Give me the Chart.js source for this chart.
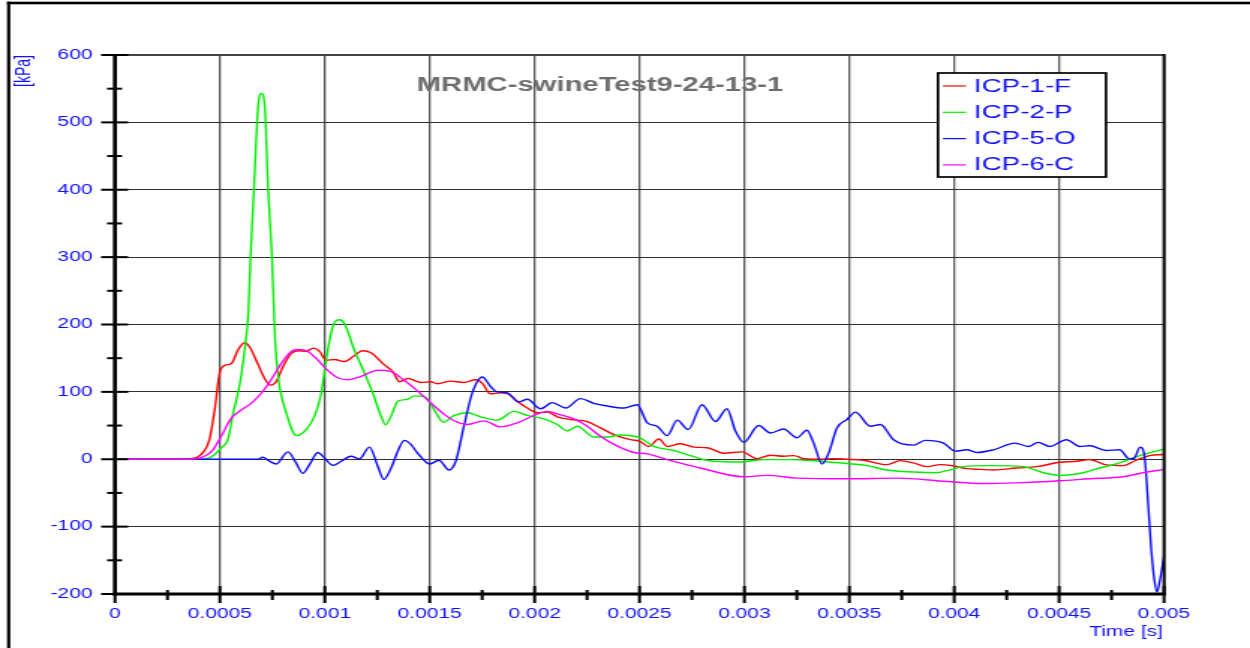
<!DOCTYPE html>
<html>
<head>
<meta charset="utf-8">
<title>MRMC-swineTest9-24-13-1</title>
<script src="https://cdn.jsdelivr.net/npm/chart.js@4.4.1/dist/chart.umd.min.js"></script>
<style>
  html, body { margin: 0; padding: 0; background: #fff; overflow: hidden; }
  /* the original plot is a horizontally stretched export, so draw narrow and stretch */
  #wrap { width: 834px; height: 648px; transform: scaleX(1.49880); transform-origin: 0 0; }
</style>
</head>
<body>
<div id="wrap"><canvas id="icpChart" width="834" height="648"></canvas></div>
<script>

/******************************************************************
DATA  (time [s], pressure [kPa])
******************************************************************/

var seriesNames = ["ICP-1-F", "ICP-2-P", "ICP-5-O", "ICP-6-C"];
var seriesColors = ["#ff0000", "#00ee00", "#0a0aff", "#ff00ff"];

var icp1 = [[0,0],[0.0003,0],[0.00036,1],[0.00041,7],[0.00045,29],[0.000475,73],[0.0005,130],[0.00053,140],[0.000555,142],[0.000586,162],
  [0.000617,173],[0.000641,167],[0.00068,142],[0.000713,120],[0.00074,110],[0.000768,115],[0.0008,137],[0.00084,157],[0.00088,161],[0.00091,160],
  [0.000946,165],[0.000975,160],[0.001006,147],[0.001046,148],[0.001094,145],[0.001133,152],[0.001181,161],[0.00122,158],[0.001284,140],[0.001324,130],
  [0.001356,115],[0.001395,120],[0.001457,114],[0.001505,115],[0.001537,112],[0.0016,116],[0.001663,114],[0.001719,118],[0.00175,113],[0.00179,97],
  [0.001838,98.5],[0.00187,97.5],[0.001917,86],[0.001965,76],[0.002013,69],[0.00206,70],[0.002108,63],[0.002171,59],[0.002251,56],[0.002314,46.5],
  [0.002378,36.6],[0.002457,29],[0.0025,27],[0.002544,19],[0.002592,30],[0.002632,19],[0.002695,23],[0.002759,18],[0.002822,17],[0.002902,9],
  [0.002989,11],[0.00306,1],[0.003124,6],[0.003187,4.5],[0.003235,5.4],[0.003283,1],[0.003362,0],[0.003425,1],[0.003489,0],[0.003568,-1.5],
  [0.003679,-8],[0.003743,-2],[0.003806,-5.5],[0.00387,-11],[0.003933,-8],[0.003997,-10],[0.00406,-14],[0.004124,-15],[0.004187,-16],[0.004297,-13],
  [0.004392,-11],[0.004503,-4.5],[0.004582,-3],[0.004646,-0.5],[0.004725,-8.4],[0.004804,-9.4],[0.004867,-1.5],[0.00493,5.4],[0.005,7]];

var icp2 = [[0,0],[0.0004,0],[0.00045,2],[0.000475,7],[0.000506,17],[0.000538,29],[0.000563,68],[0.000595,112],[0.000619,165],[0.000636,220],
  [0.000646,300],[0.000662,399],[0.000682,523],[0.000698,543],[0.000714,523],[0.00073,399],[0.000748,300],[0.000763,177],[0.000778,122],[0.000817,68],
  [0.000865,35],[0.000911,44],[0.000951,64],[0.000983,98],[0.001006,147],[0.001038,197],[0.00107,207],[0.001094,201],[0.001141,162],[0.001189,128],
  [0.001229,98],[0.001268,64],[0.001289,51],[0.001316,64],[0.001348,86],[0.001395,89],[0.001425,94],[0.001475,93],[0.00152,74],[0.001565,55],
  [0.001616,65],[0.001679,69],[0.001743,63],[0.001822,58],[0.001902,71],[0.001965,65],[0.002044,60],[0.002108,51.5],[0.002156,42],[0.002203,49],
  [0.002282,33],[0.002346,33],[0.002409,36],[0.0025,32],[0.002568,19],[0.002663,13],[0.002743,5.4],[0.002798,0],[0.002854,-3],[0.002981,-4],
  [0.003092,-0.5],[0.003219,-0.5],[0.003362,-3],[0.003489,-6.4],[0.003584,-9.4],[0.003679,-16],[0.003806,-19],[0.003917,-20],[0.003965,-17],[0.004044,-11],
  [0.004171,-9.4],[0.004329,-11],[0.004424,-20],[0.004503,-24],[0.004614,-20],[0.004693,-13],[0.004788,-5.4],[0.004867,3.5],[0.00493,9.4],[0.005,15]];

var icp5 = [[0,0],[0.00068,0],[0.000705,3],[0.000737,-3],[0.000768,-7],[0.000824,11],[0.000863,-5.4],[0.000895,-21],[0.000927,-8],[0.000967,10],
  [0.000998,2],[0.001038,-9],[0.001078,-3],[0.001125,4.4],[0.001165,0.5],[0.001213,18],[0.001252,-10],[0.001281,-30],[0.001316,-13],[0.001348,12],
  [0.001379,28],[0.00141,22],[0.00144,10],[0.0015,-7],[0.001544,-1.5],[0.001592,-16],[0.001624,-3],[0.001663,49],[0.001703,98.5],[0.001751,122],
  [0.00179,108],[0.001822,100],[0.00187,98.5],[0.001925,85],[0.001965,89],[0.002029,75],[0.002084,84],[0.002148,76],[0.002219,90],[0.002282,83],
  [0.002346,79],[0.002425,76],[0.002489,81],[0.002537,54],[0.002584,49],[0.002632,35],[0.00268,58],[0.002732,44],[0.002798,81],[0.002862,56],
  [0.002917,75],[0.002957,42],[0.002997,25],[0.003068,50],[0.003124,39],[0.003187,45],[0.003251,32],[0.003298,43],[0.00333,24],[0.00337,-7],
  [0.003402,9.4],[0.003441,46.5],[0.003489,59],[0.003529,70],[0.0036,49],[0.003648,51.5],[0.003711,29],[0.003806,21],[0.003862,28],[0.003949,24],
  [0.004005,12],[0.00406,14],[0.004108,10],[0.004187,14],[0.00429,24],[0.004353,19],[0.0044,25],[0.004456,19],[0.004535,29],[0.004598,19],
  [0.004646,20],[0.004725,13],[0.004788,14],[0.004835,0.5],[0.004859,2],[0.004886,18],[0.004907,4.5],[0.004922,-55],[0.004938,-129],[0.004954,-179],
  [0.004967,-197],[0.004981,-179],[0.005,-144]];

var icp6 = [[0,0],[0.00036,0],[0.000427,4.4],[0.000467,14],[0.000506,34],[0.000554,61],[0.000602,73],[0.000649,83],[0.000697,98],[0.000744,118],
  [0.000792,142],[0.00084,160],[0.000871,163],[0.000919,160],[0.000967,147],[0.001014,132],[0.001062,121],[0.00111,118],[0.001173,123],[0.001252,132],
  [0.001316,130],[0.001379,117],[0.001425,106],[0.0015,85],[0.001568,67],[0.001624,56],[0.001679,51.5],[0.001759,57],[0.001838,48],[0.001917,54],
  [0.001997,65],[0.00206,71],[0.002124,66],[0.002187,60],[0.002251,49],[0.002314,34],[0.002378,22],[0.002473,10],[0.002537,8],[0.002632,-0.5],
  [0.002711,-7],[0.00279,-13],[0.002997,-26],[0.003108,-24],[0.003251,-28],[0.003489,-29],[0.003727,-28],[0.003965,-33],[0.004139,-36],[0.004297,-35],
  [0.004503,-32],[0.004646,-29],[0.004804,-26],[0.004899,-20],[0.005,-15]];

var timeMin = 0, timeMax = 0.005, timeStep = 0.0005;
var kpaMin = -200, kpaMax = 600, kpaStep = 100;
var chartTitle = "MRMC-swineTest9-24-13-1";
var yTitle = "[kPa]";
var xTitle = "Time [s]";


/******************************************************************
LAYOUT  (canvas is 834 wide, stretched to 1250 on screen)
******************************************************************/

var SX = 1250 / 834;
var PLOT_LEFT = 115 / SX;
var PLOT_RIGHT = 1164 / SX;
var PLOT_TOP = 55;
var PLOT_BOTTOM = 594;
var FONT = "'Liberation Sans', Arial, sans-serif";
var BLUE_TEXT = "#1010ff";

Chart.defaults.font.family = FONT;

function toPoints(pairs) {
  return pairs.map(function (p) { return { x: p[0], y: p[1] }; });
}


/******************************************************************
AXES, FRAME, TITLE AND LEGEND DECORATION
******************************************************************/

var decorPlugin = {
  id: 'decor',
  afterDraw: function (chart) {
    var ctx = chart.ctx;
    var a = chart.chartArea;
    var xs = chart.scales.x;
    var ys = chart.scales.y;
    var i, px, py;

    ctx.save();

    // outer frame (left + top)
    ctx.fillStyle = "#000";
    ctx.fillRect(4.7, 1.7, 2.2, 660);
    ctx.fillRect(4.7, 1.7, 840, 2.6);

    // plot borders
    ctx.fillStyle = "#444";
    ctx.fillRect(a.left, a.top - 1, a.right - a.left, 2);
    ctx.fillStyle = "#000";
    ctx.fillRect(a.right - 1, a.top - 1, 2, a.bottom - a.top + 2);
    ctx.fillRect(a.left - 1.4, a.top - 1, 2.7, a.bottom - a.top + 2.5);
    ctx.fillRect(a.left - 1.4, a.bottom - 1.5, a.right - a.left + 2.4, 3);

    // y tick marks, major every 100 and minor in between
    for (i = 0; i <= (kpaMax - kpaMin) / 50; i++) {
      py = ys.getPixelForValue(kpaMin + i * 50);
      if (i % 2 === 0) {
        ctx.fillRect(a.left - 9.3, py - 1, 18, 2);
      } else {
        ctx.fillRect(a.left - 5.3, py - 1, 10, 2);
      }
    }

    // x tick marks
    for (i = 0; i <= (timeMax - timeMin) / (timeStep / 2) + 0.5; i++) {
      px = xs.getPixelForValue(timeMin + i * timeStep / 2);
      if (i === 0) {
        ctx.fillRect(px - 1, a.bottom, 2, 9);
      } else if (i % 2 === 0) {
        ctx.fillRect(px - 1, a.bottom - 8, 2, 17);
      } else {
        ctx.fillRect(px - 1, a.bottom - 4, 2, 10);
      }
    }

    // chart title inside the plot
    ctx.fillStyle = "#6e6e6e";
    ctx.font = "bold 19.5px " + FONT;
    ctx.textAlign = "center";
    ctx.textBaseline = "middle";
    ctx.fillText(chartTitle, 600 / SX, 86);

    // axis titles
    ctx.fillStyle = BLUE_TEXT;
    ctx.font = "14px " + FONT;
    ctx.textAlign = "right";
    ctx.textBaseline = "alphabetic";
    ctx.fillText(xTitle, 1163 / SX, 636);

    ctx.save();
    ctx.translate(30 / SX, 55);
    ctx.rotate(-Math.PI / 2);
    ctx.textAlign = "right";
    ctx.textBaseline = "alphabetic";
    ctx.fillText(yTitle, 0, 0);
    ctx.restore();

    // legend box
    var lx = 938 / SX, lw = (1106 - 938) / SX, ly = 73, lh = 104;
    ctx.fillStyle = "#fff";
    ctx.fillRect(lx, ly, lw, lh);
    ctx.strokeStyle = "#000";
    ctx.lineWidth = 1.7;
    ctx.strokeRect(lx, ly, lw, lh);

    ctx.font = "18.5px " + FONT;
    ctx.textAlign = "left";
    ctx.textBaseline = "middle";
    for (i = 0; i < seriesNames.length; i++) {
      var ry = 86 + i * 26.3;
      ctx.strokeStyle = seriesColors[i];
      ctx.lineWidth = 1.2;
      ctx.beginPath();
      ctx.moveTo(943 / SX, ry);
      ctx.lineTo(966 / SX, ry);
      ctx.stroke();
      ctx.fillStyle = BLUE_TEXT;
      ctx.fillText(seriesNames[i], 974 / SX, ry + 0.5);
    }

    ctx.restore();
  }
};


/******************************************************************
CHART
******************************************************************/

var allSeries = [icp1, icp2, icp5, icp6];

var datasets = allSeries.map(function (s, i) {
  return {
    label: seriesNames[i],
    data: toPoints(s),
    borderColor: seriesColors[i],
    backgroundColor: seriesColors[i],
    borderWidth: 1.4,
    pointRadius: 0,
    fill: false,
    cubicInterpolationMode: 'monotone',
    order: allSeries.length - i
  };
});

var ctx = document.getElementById('icpChart').getContext('2d');
var chart = new Chart(ctx, {
  type: 'line',
  data: { datasets: datasets },
  options: {
    responsive: false,
    animation: false,
    layout: {
      padding: { left: 0, top: PLOT_TOP, right: 834 - PLOT_RIGHT, bottom: 0 }
    },
    plugins: {
      legend: { display: false },
      tooltip: { enabled: false },
      title: { display: false }
    },
    scales: {
      x: {
        type: 'linear',
        min: timeMin,
        max: timeMax,
        border: { display: false },
        grid: { drawTicks: false, color: '#585858', lineWidth: 1.3 },
        ticks: {
          stepSize: timeStep,
          maxRotation: 0,
          autoSkip: false,
          padding: 12,
          color: BLUE_TEXT,
          font: { size: 14 },
          callback: function (v) { return String(+v.toFixed(4)); }
        },
        afterFit: function (scale) { scale.height = 648 - PLOT_BOTTOM; }
      },
      y: {
        min: kpaMin,
        max: kpaMax,
        border: { display: false },
        grid: { drawTicks: false, color: '#303030', lineWidth: 1 },
        ticks: {
          stepSize: kpaStep,
          padding: 15,
          color: BLUE_TEXT,
          font: { size: 14 }
        },
        afterFit: function (scale) { scale.width = PLOT_LEFT; }
      }
    }
  },
  plugins: [decorPlugin]
});

</script>
</body>
</html>
